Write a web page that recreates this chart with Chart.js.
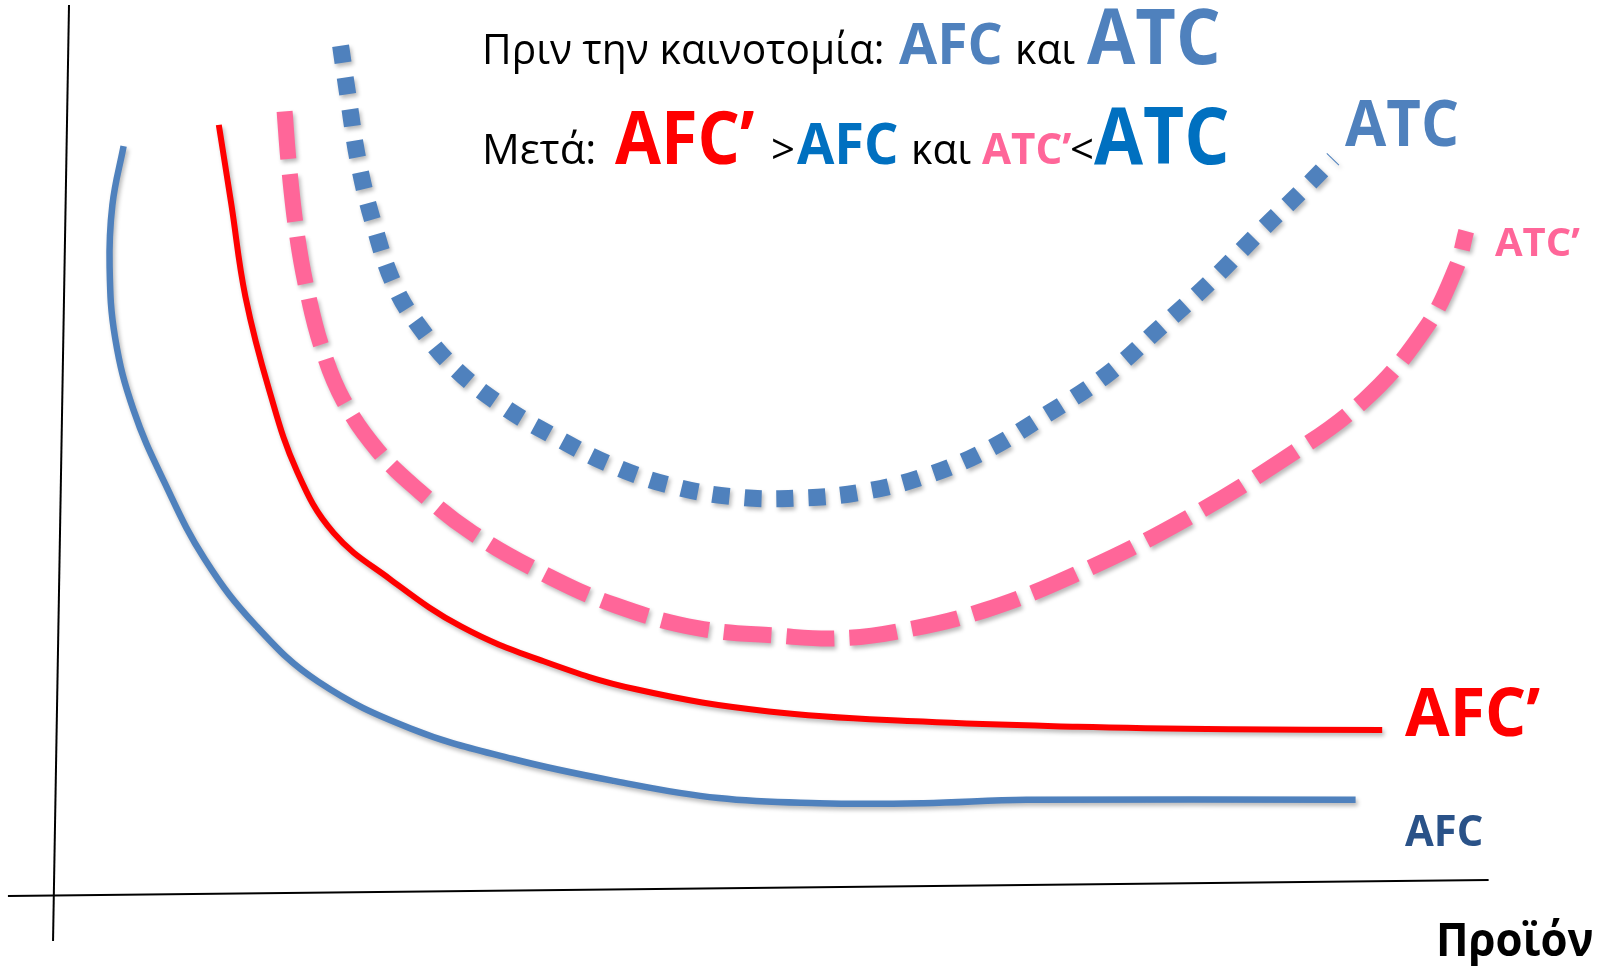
<!DOCTYPE html>
<html>
<head>
<meta charset="utf-8">
<script src="https://cdn.jsdelivr.net/npm/chart.js@4.4.1/dist/chart.umd.min.js"></script>
<style>
html,body{margin:0;padding:0;background:#fff;}
#wrap{position:relative;width:1608px;height:966px;}
</style>
</head>
<body>
<div id="wrap"><canvas id="c" width="1608" height="966"></canvas></div>
<script>
// ---- Data (quantity on x, cost on y) ----
const afcX = [4.9, 4.1, 3.9, 4.3, 5.6, 7.8, 10.7, 14.4, 18.8, 25.4, 32.7, 40.0, 47.4, 54.6, 62.0, 69.4, 92.9];
const afcY = [88.1, 81.2, 73.9, 65.5, 57.1, 48.6, 39.5, 31.6, 25.1, 19.6, 16.0, 13.4, 11.4, 10.8, 10.8, 11.2, 11.2];

const afc2X = [11.7, 12.6, 13.6, 15.3, 17.3, 19.9, 23.9, 29.0, 34.9, 41.5, 51.0, 62.0, 73.0, 84.0, 94.8];
const afc2Y = [90.6, 81.2, 70.4, 59.4, 49.8, 42.6, 37.2, 31.6, 27.5, 24.2, 21.6, 20.4, 19.8, 19.5, 19.4];

const atc2X = [16.4, 16.7, 17.3, 18.1, 19.1, 20.6, 23.1, 26.1, 29.8, 34.9, 40.0, 45.9, 51.7, 56.1, 60.5, 66.4, 73.0, 80.3, 87.6, 93.5, 97.9, 100.1, 100.8];
const atc2Y = [92.2, 86.0, 77.5, 70.4, 64.2, 58.2, 52.2, 47.4, 42.6, 37.8, 34.1, 31.4, 30.5, 30.2, 31.1, 33.5, 37.8, 43.8, 51.1, 58.2, 66.7, 73.9, 78.1];

const atcX = [20.4, 21.0, 21.7, 22.8, 24.3, 26.1, 28.6, 31.9, 35.6, 40.0, 44.4, 48.8, 53.2, 57.6, 62.0, 66.4, 70.8, 75.2, 78.9, 82.5, 86.1, 89.1, 91.3];
const atcY = [99.9, 93.2, 86.0, 78.7, 71.5, 66.7, 61.9, 57.6, 54.0, 50.4, 48.0, 46.8, 46.7, 47.4, 49.2, 52.2, 56.5, 61.3, 66.7, 72.1, 78.1, 82.9, 86.6];

const yAxisX = [1.0, -0.14];
const yAxisY = [104.7, -5.4];
const xAxisX = [-3.36, 102.4];
const xAxisY = [-0.12, 1.76];

// ---- Text ----
const titleLine1 = [
  {text: "Πριν την καινοτομία:", color: "#000000", size: 42, bold: false, x: 482, sx: 0.97},
  {text: "AFC", color: "#4F81BD", size: 57, bold: true, x: 899, sx: 0.97},
  {text: "και", color: "#000000", size: 42, bold: false, x: 1015, sx: 0.97},
  {text: "ATC", color: "#4F81BD", size: 77, bold: true, x: 1087, sx: 0.91}
];
const titleLine2 = [
  {text: "Μετά:", color: "#000000", size: 42, bold: false, x: 482, sx: 1.0},
  {text: "AFC’", color: "#FF0000", size: 74, bold: true, x: 615, sx: 0.9},
  {text: ">", color: "#000000", size: 42, bold: false, x: 771, sx: 1.0},
  {text: "AFC", color: "#0070C0", size: 57, bold: true, x: 797, sx: 0.95},
  {text: "και", color: "#000000", size: 42, bold: false, x: 911, sx: 0.97},
  {text: "ATC’", color: "#FF6699", size: 43, bold: true, x: 982, sx: 0.98},
  {text: "<", color: "#000000", size: 42, bold: false, x: 1070, sx: 1.0},
  {text: "ATC", color: "#0070C0", size: 79, bold: true, x: 1094, sx: 0.9}
];
const curveLabels = [
  {text: "ATC", color: "#4F81BD", size: 65, bold: true, x: 1345, y: 146, sx: 0.92},
  {text: "ATC’", color: "#FF6699", size: 40, bold: true, x: 1495, y: 256, sx: 1.0},
  {text: "AFC’", color: "#FF0000", size: 66, bold: true, x: 1405, y: 736, sx: 0.98},
  {text: "AFC", color: "#2A5288", size: 43, bold: true, x: 1405, y: 846, sx: 0.97},
  {text: "Προϊόν", color: "#000000", size: 46, bold: true, x: 1436, y: 956, sx: 0.95}
];

const zip = (xs, ys) => xs.map((x, i) => ({x: x, y: ys[i]}));
const FONT = '"Open Sans", "Noto Sans", sans-serif';

const shadowPlugin = {
  id: 'shadow',
  beforeDatasetDraw(chart, args) {
    const ds = chart.data.datasets[args.index];
    chart.ctx.save();
    if (ds.shadow) {
      chart.ctx.shadowColor = 'rgba(0,0,0,0.28)';
      chart.ctx.shadowBlur = 4;
      chart.ctx.shadowOffsetX = 2;
      chart.ctx.shadowOffsetY = 3;
    }
  },
  afterDatasetDraw(chart) {
    chart.ctx.restore();
  }
};

const textPlugin = {
  id: 'texts',
  afterDraw(chart) {
    const ctx = chart.ctx;
    ctx.save();
    ctx.textBaseline = 'alphabetic';
    ctx.textAlign = 'left';
    const draw = (r, y) => {
      ctx.save();
      ctx.font = (r.bold ? 'bold ' : '') + r.size + 'px ' + FONT;
      ctx.fillStyle = r.color;
      ctx.translate(r.x, y);
      ctx.scale(r.sx || 1, 1);
      ctx.fillText(r.text, 0, 0);
      ctx.restore();
    };
    titleLine1.forEach(r => draw(r, 64));
    titleLine2.forEach(r => draw(r, 164));
    curveLabels.forEach(r => draw(r, r.y));
    ctx.restore();
  }
};

new Chart(document.getElementById('c'), {
  type: 'scatter',
  data: {
    datasets: [
      {data: zip(yAxisX, yAxisY), showLine: true, borderColor: '#000', borderWidth: 2, pointRadius: 0, tension: 0},
      {data: zip(xAxisX, xAxisY), showLine: true, borderColor: '#000', borderWidth: 2, pointRadius: 0, tension: 0},
      {data: zip(afcX, afcY), showLine: true, borderColor: '#4F81BD', borderWidth: 6.5, pointRadius: 0, tension: 0.4, shadow: true},
      {data: zip(afc2X, afc2Y), showLine: true, borderColor: '#FF0000', borderWidth: 6, pointRadius: 0, tension: 0.4, shadow: true},
      {data: zip(atc2X, atc2Y), showLine: true, borderColor: '#FF6699', borderWidth: 16, borderDash: [48, 15], borderCapStyle: 'butt', pointRadius: 0, tension: 0.4, shadow: true},
      {data: zip(atcX, atcY), showLine: true, borderColor: '#4F81BD', borderWidth: 17, borderDash: [17, 15], borderCapStyle: 'butt', pointRadius: 0, tension: 0.4, shadow: true}
    ]
  },
  options: {
    responsive: false,
    animation: false,
    layout: {padding: 0},
    clip: false,
    scales: {
      x: {type: 'linear', display: false, min: -55 / 14, max: (1608 - 55) / 14},
      y: {type: 'linear', display: false, min: (895 - 966) / 8.5, max: 895 / 8.5}
    },
    plugins: {legend: {display: false}, tooltip: {enabled: false}}
  },
  plugins: [shadowPlugin, textPlugin]
});
</script>
</body>
</html>
